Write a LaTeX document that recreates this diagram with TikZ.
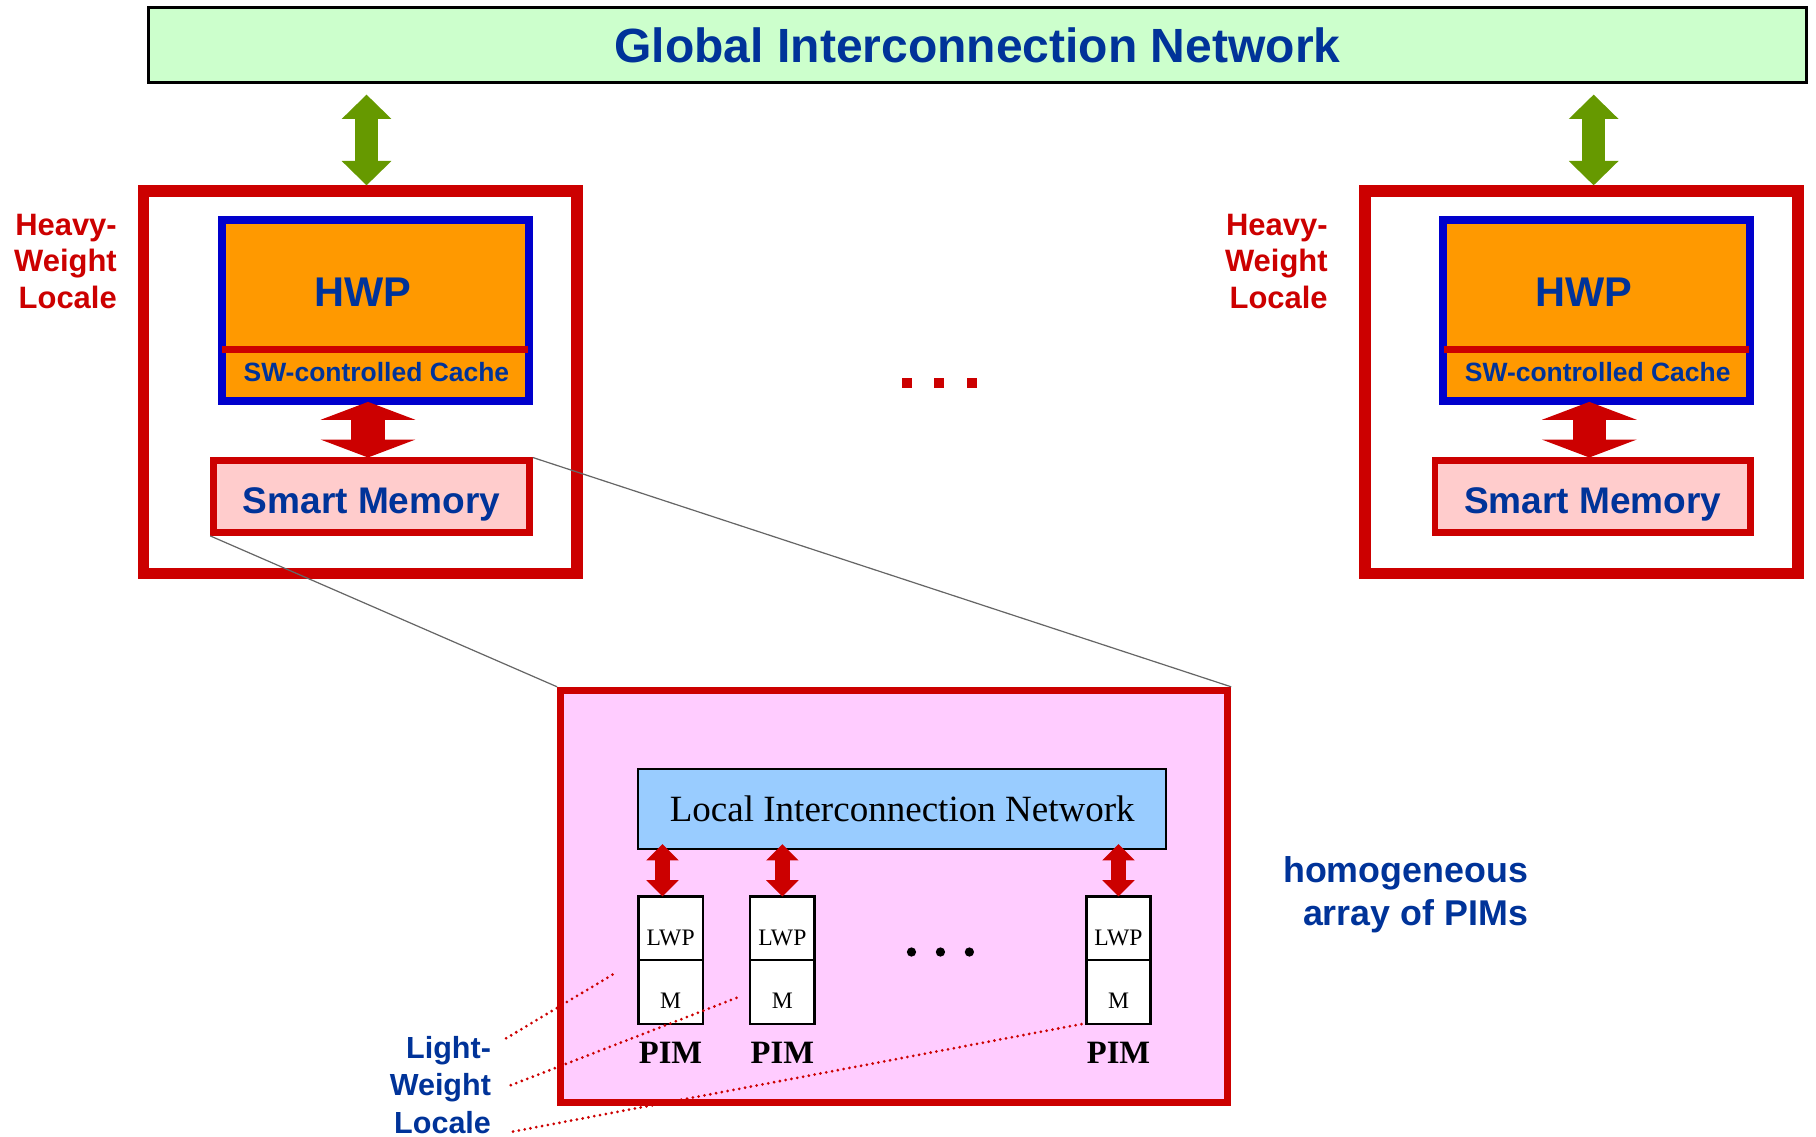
\documentclass[tikz,border=0pt]{standalone}
\usepackage{fontspec}
\setmainfont{Liberation Sans}
\newfontfamily\tnrfont{Liberation Serif}
\usepackage{tikz}
\usetikzlibrary{arrows.meta,positioning,calc}
\definecolor{netgreen}{HTML}{CCFFCC}
\definecolor{navyblue}{HTML}{003399}
\definecolor{locred}{HTML}{CC0000}
\definecolor{arrgreen}{HTML}{669900}
\definecolor{hwporange}{HTML}{FF9900}
\definecolor{hwpblue}{HTML}{0000CC}
\definecolor{mempink}{HTML}{FFCCCC}
\definecolor{lwlpink}{HTML}{FFCCFF}
\definecolor{netblue}{HTML}{99CCFF}

\begin{document}
\begin{tikzpicture}[
  netbox/.style={rectangle, draw=black, line width=0.7pt, fill=netgreen, minimum width=14.31cm, minimum height=0.65cm, inner sep=0pt, text=navyblue, font=\fontsize{11.8}{14}\selectfont\bfseries},
  hwlbox/.style={rectangle, draw=locred, line width=0.1cm, minimum width=3.74cm, minimum height=3.30cm},
  hwpbox/.style={rectangle, draw=hwpblue, fill=hwporange, line width=0.068cm, minimum width=2.65cm, minimum height=1.566cm},
  divider/.style={draw=locred, line width=0.066cm, shorten <=0.04cm, shorten >=0.04cm},
  hwptxt/.style={inner sep=0pt, text=navyblue, font=\fontsize{10.2}{12}\selectfont\bfseries},
  cachetxt/.style={inner sep=0pt, text=navyblue, font=\fontsize{6.5}{8}\selectfont\bfseries},
  membox/.style={rectangle, draw=locred, fill=mempink, line width=0.06cm, minimum width=2.725cm, minimum height=0.617cm, inner sep=0pt, text height=0.285cm, text depth=0pt, text=navyblue, font=\fontsize{9.1}{11}\selectfont\bfseries},
  heavytxt/.style={align=right, inner sep=0pt, text=locred, font=\fontsize{7.6}{9}\selectfont\bfseries},
  lighttxt/.style={align=right, inner sep=0pt, text=navyblue, font=\fontsize{7.5}{9.25}\selectfont\bfseries},
  garrow/.style={draw=arrgreen, line width=0.2cm, {Triangle[length=0.21cm, width=0.43cm, line width=0pt]}-{Triangle[length=0.21cm, width=0.43cm, line width=0pt]}},
  rarrow/.style={draw=locred, line width=0.29cm, {Triangle[length=0.155cm, width=0.82cm, line width=0pt]}-{Triangle[length=0.155cm, width=0.82cm, line width=0pt]}},
  parrow/.style={draw=locred, line width=0.135cm, {Triangle[length=0.14cm, width=0.28cm, line width=0pt]}-{Triangle[length=0.14cm, width=0.28cm, line width=0pt]}},
  rdot/.style={rectangle, fill=locred, minimum size=0.086cm, inner sep=0pt},
  bdot/.style={circle, fill=black, minimum size=0.08cm, inner sep=0pt},
  lwlbox/.style={rectangle, draw=locred, fill=lwlpink, line width=0.06cm, minimum width=5.76cm, minimum height=3.56cm},
  linbox/.style={rectangle, draw=black, line width=0.5pt, fill=netblue, minimum width=4.56cm, minimum height=0.69cm, inner sep=0pt, font=\tnrfont\fontsize{9.1}{11}\selectfont},
  lwpbox/.style={rectangle, draw=black, line width=0.6pt, fill=white, minimum width=0.555cm, minimum height=0.55cm, inner sep=0pt, outer sep=0pt, text height=0.29cm, text depth=0pt, font=\tnrfont\fontsize{5.8}{7}\selectfont},
  pimtxt/.style={inner sep=0pt, outer sep=0pt, font=\tnrfont\fontsize{8}{10}\selectfont\bfseries},
  zoomline/.style={draw=black!60, line width=0.3pt},
  pointer/.style={draw=locred, line width=0.75pt, line cap=round, dash pattern=on 0pt off 1.45pt}]
  \useasboundingbox (0,0) rectangle (15.68,-9.81);
  % global network
  \node[netbox] (gin) at (8.44,-0.39) {Global Interconnection Network};
  % heavy-weight locales
  \foreach \s/\dx/\gx/\tx in {A/0/3.165/1.015, B/10.545/13.76/11.47} {
    \node[hwlbox] (hwl\s) at ({3.11+\dx},-3.30) {};
    \node[hwpbox] (hwp\s) at ({3.24+\dx},-2.683) {};
    \draw[divider] ($(hwp\s.north west)!0.704!(hwp\s.south west)$) -- ($(hwp\s.north east)!0.704!(hwp\s.south east)$);
    \node[hwptxt] (hwpt\s) at ({3.13+\dx},-2.52) {HWP};
    \node[cachetxt] (cache\s) at ({3.25+\dx},-3.21) {SW-controlled Cache};
    \node[membox] (sm\s) at ({3.2075+\dx},-4.2885) {Smart Memory};
    \node[heavytxt, anchor=north east] (hvl\s) at (\tx,-1.84) {Heavy-\\Weight\\Locale};
    \coordinate (gx\s) at (\gx,-1);
    \draw[garrow, shorten <=0.09cm] (gx\s |- gin.south) -- (gx\s |- hwl\s.north);
    \coordinate (rx\s) at ($(sm\s.north)+(-0.03,0)$);
    \draw[rarrow, shorten >=-0.03cm] (rx\s) -- (rx\s |- hwp\s.south);
  }
  \foreach \i/\xx in {1/7.83, 2/8.11, 3/8.39}
    \node[rdot] (rd\i) at (\xx,-3.31) {};
  % light-weight locale
  \node[lwlbox] (lwl) at (7.72,-7.74) {};
  \draw[zoomline] (smA.south west) -- (lwl.north west);
  \draw[zoomline] (smA.north east) -- (lwl.north east);
  \node[linbox] (lin) at (7.79,-6.985) {Local Interconnection Network};
  \foreach \i/\xx/\ax in {1/5.79/-0.07, 2/6.755/0, 3/9.6575/0} {
    \node[lwpbox] (lwp\i) at (\xx,-8.015) {LWP};
    \node[lwpbox, below=0pt of lwp\i] (m\i) {M};
    \node[pimtxt, below=0.16cm of m\i] (pim\i) {PIM};
    \coordinate (pa\i) at ($(lwp\i.north)+(\ax,0)$);
    \draw[parrow, shorten >=-0.05cm] (pa\i) -- (pa\i |- lin.south);
  }
  \foreach \i/\xx in {1/7.87, 2/8.12, 3/8.37}
    \node[bdot] (bd\i) at (\xx,-8.22) {};
  \node[lighttxt, anchor=north east] (lwt) at (4.246,-8.938) {Light-\\Weight\\Locale};
  \node[align=right, inner sep=0pt, anchor=north east, text=navyblue, font=\fontsize{8.8}{10.4}\selectfont\bfseries] (hom) at (13.20,-7.39) {homogeneous\\array of PIMs};
  % pointers to the PIMs
  \coordinate (l1) at (4.37,-8.965);
  \coordinate (l2) at (4.41,-9.37);
  \coordinate (l3) at (4.43,-9.77);
  \coordinate (e1) at (5.325,-8.394);
  \coordinate (e2) at (6.405,-8.598);
  \coordinate (e3) at (9.35,-8.84);
  \draw[pointer] (l1) -- (e1);
  \draw[pointer] (l2) -- (e2);
  \draw[pointer] (l3) -- (e3);
\end{tikzpicture}
\end{document}
